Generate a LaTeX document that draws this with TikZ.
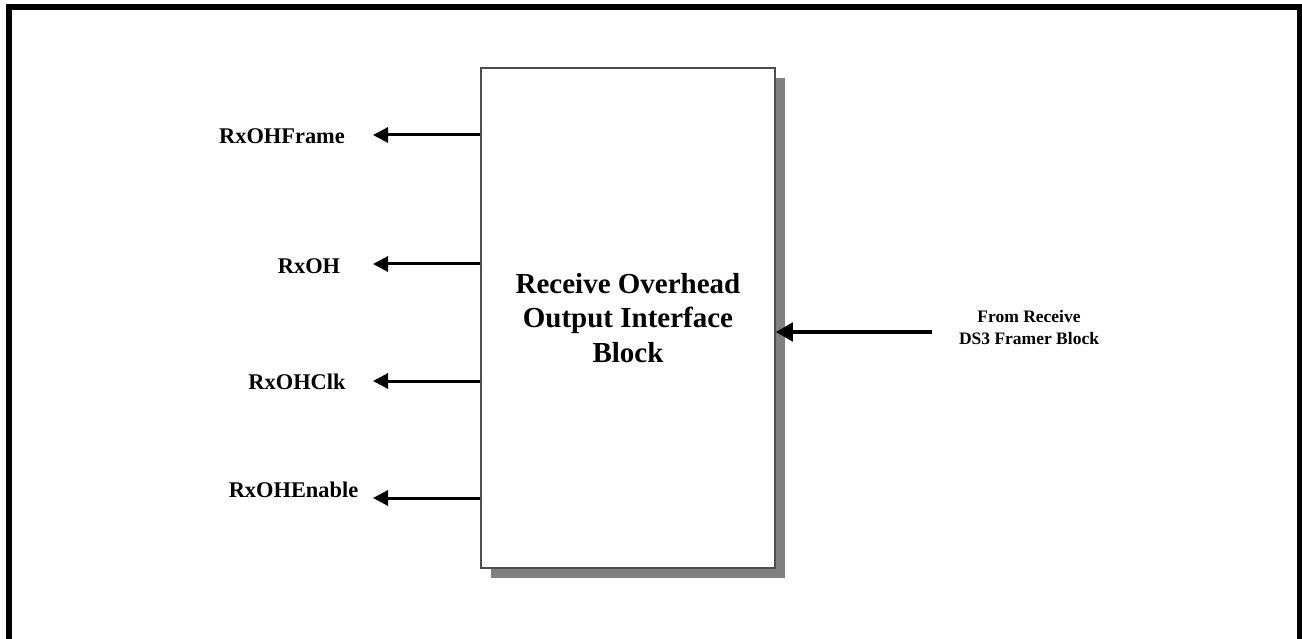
\documentclass[tikz,border=0pt]{standalone}
\usepackage{fontspec}
\setmainfont{Liberation Serif}
\usetikzlibrary{arrows.meta,shadows}
\begin{document}
\begin{tikzpicture}[x=1pt,y=-1pt,
  blockbox/.style={draw=black!70,line width=1.5pt,fill=white,minimum width=294pt,minimum height=500pt,inner sep=0pt,
    drop shadow={shadow xshift=10pt,shadow yshift=-10pt,fill=black!50,opacity=1}},
  sig/.style={font=\fontsize{22.4}{26}\selectfont\bfseries,anchor=base,inner sep=0pt},
  outarrow/.style={line width=3pt,-{Triangle[length=15pt,width=15pt]}},
  inarrow/.style={line width=4.3pt,-{Triangle[length=17pt,width=18pt]}}]
\useasboundingbox (0,0) rectangle (1302,639);
\draw[line width=6pt] (9,7) rectangle (1300,650);
\node[blockbox] (box) at (628,318) {};
\node[font=\fontsize{29}{34.5}\selectfont\bfseries,align=center,inner sep=0pt] (title) at (628,318)
  {Receive Overhead\\Output Interface\\Block};
\node[sig] (l1) at (282,144) {RxOHFrame};
\node[sig] (l2) at (309,273) {RxOH};
\node[sig] (l3) at (297,389) {RxOHClk};
\node[sig] (l4) at (293.5,497) {RxOHEnable};
\coordinate (t1) at (373,135);
\coordinate (t2) at (373,264);
\coordinate (t3) at (373,381);
\coordinate (t4) at (373,498);
\draw[outarrow] (box.west |- t1) -- (t1);
\draw[outarrow] (box.west |- t2) -- (t2);
\draw[outarrow] (box.west |- t3) -- (t3);
\draw[outarrow] (box.west |- t4) -- (t4);
\node[font=\fontsize{17.5}{22}\selectfont\bfseries,align=center,inner sep=0pt] (src) at (1029,328)
  {From Receive\\DS3 Framer Block};
\coordinate (s0) at (932,332);
\draw[inarrow] (s0) -- (box.east |- s0);
\end{tikzpicture}
\end{document}
